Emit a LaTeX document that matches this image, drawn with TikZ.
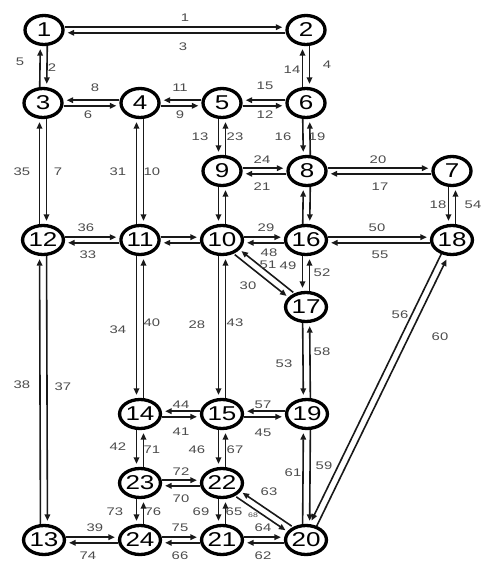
\documentclass[tikz,border=0pt]{standalone}
\usepackage{fontspec}
\usepackage{graphicx}
\setmainfont{Liberation Sans}
\usetikzlibrary{shapes.geometric,arrows.meta}
\newcommand{\ar}[4]{\draw[lnk, transform canvas={shift={(#3,#4)}}] (n#1) -- (n#2);}
\newcommand{\lab}[3]{\node[lb] (l#3) at (#1,#2) {\scalebox{1.35}[1]{#3}};}
\begin{document}
\begin{tikzpicture}[x=1pt,y=-1pt,
  nd/.style={ellipse, draw, line width=3.3pt, fill=white, minimum width=38pt, minimum height=29pt, inner sep=0pt, font=\fontsize{20}{20}\selectfont},
  lnk/.style={line width=1.6pt, draw=black!90, -{Triangle[length=6.5pt,width=5.5pt]}, shorten >=3pt},
  lb/.style={font=\fontsize{11}{11}\selectfont, text=black!70, inner sep=0pt}]
\useasboundingbox[fill=white] (0,0) rectangle (486,586);
% nodes
\foreach \n/\x/\y in {1/44/30, 2/306/30, 3/43/103, 4/140/103, 5/222/103, 6/306/103,
  9/222/171, 8/307/171, 7/452/171, 12/43/240, 11/140/240, 10/222/240, 16/306/240, 18/452/240,
  17/306/307, 14/140/414, 15/222/414, 19/307/414, 23/140/483, 22/222/483,
  13/44/540, 24/140/540, 21/222/540, 20/306/540}
  {\node[nd] (n\n) at (\x,\y) {\scalebox{1.3}[1]{\n}};}
% arcs
\ar{1}{2}{0}{-2.8} \ar{2}{1}{0}{2.8}
\ar{1}{3}{3.5}{0} \ar{3}{1}{-3.5}{0}
\ar{2}{6}{3.5}{0} \ar{6}{2}{-3.5}{0}
\ar{3}{4}{0}{2.8} \ar{4}{3}{0}{-2.8}
\ar{4}{5}{0}{2.8} \ar{5}{4}{0}{-2.8}
\ar{5}{6}{0}{2.8} \ar{6}{5}{0}{-2.8}
\ar{3}{12}{3.5}{0} \ar{12}{3}{-3.5}{0}
\ar{4}{11}{3.5}{0} \ar{11}{4}{-3.5}{0}
\ar{5}{9}{-3.5}{0} \ar{9}{5}{3.5}{0}
\ar{6}{8}{-3.5}{0} \ar{8}{6}{3.5}{0}
\ar{9}{8}{0}{-2.8} \ar{8}{9}{0}{2.8}
\ar{8}{7}{0}{-2.8} \ar{7}{8}{0}{2.8}
\ar{7}{18}{-3.5}{0} \ar{18}{7}{3.5}{0}
\ar{12}{11}{0}{-2.8} \ar{11}{12}{0}{2.8}
\ar{11}{10}{0}{-2.8} \ar{10}{11}{0}{2.8}
\ar{9}{10}{-3.5}{0} \ar{10}{9}{3.5}{0}
\ar{10}{16}{0}{-2.8} \ar{16}{10}{0}{2.8}
\ar{16}{8}{-3.5}{0} \ar{8}{16}{3.5}{0}
\ar{16}{18}{0}{-2.8} \ar{18}{16}{0}{2.8}
\ar{16}{17}{-3.5}{0} \ar{17}{16}{3.5}{0}
\ar{10}{17}{-2.2}{2.7} \ar{17}{10}{2.2}{-2.7}
\ar{10}{15}{-3.5}{0} \ar{15}{10}{3.5}{0}
\ar{11}{14}{-3.5}{0} \ar{14}{11}{3.5}{0}
\ar{13}{12}{-3.5}{0} \ar{12}{13}{3.5}{0}
\ar{17}{19}{-3.5}{0} \ar{19}{17}{3.5}{0}
\ar{15}{14}{0}{-2.8} \ar{14}{15}{0}{2.8}
\ar{19}{15}{0}{-2.8} \ar{15}{19}{0}{2.8}
\ar{14}{23}{-3.5}{0} \ar{23}{14}{3.5}{0}
\ar{15}{22}{-3.5}{0} \ar{22}{15}{3.5}{0}
\ar{20}{19}{-3.5}{0} \ar{19}{20}{3.5}{0}
\ar{23}{22}{0}{-2.8} \ar{22}{23}{0}{2.8}
\ar{23}{24}{-3.5}{0} \ar{24}{23}{3.5}{0}
\ar{22}{21}{-3.5}{0} \ar{21}{22}{3.5}{0}
\ar{22}{20}{-1.9}{2.9} \ar{20}{22}{1.9}{-2.9}
\ar{13}{24}{0}{-2.8} \ar{24}{13}{0}{2.8}
\ar{24}{21}{0}{-2.8} \ar{21}{24}{0}{2.8}
\ar{21}{20}{0}{-2.8} \ar{20}{21}{0}{2.8}
\ar{20}{18}{3.2}{1.5} \ar{18}{20}{-3.2}{-1.5}
% labels
\lab{185}{18}{1} \lab{183}{47}{3}
\lab{52}{68}{2} \lab{20}{62}{5}
\lab{327}{65}{4} \lab{292}{70}{14}
\lab{88}{115}{6} \lab{95}{88}{8}
\lab{180}{115}{9} \lab{180}{88}{11}
\lab{265}{115}{12} \lab{265}{86}{15}
\lab{58}{172}{7} \lab{22}{172}{35}
\lab{152}{172}{10} \lab{118}{172}{31}
\lab{200}{137}{13} \lab{235}{137}{23}
\lab{283}{137}{16} \lab{317}{137}{19}
\lab{262}{160}{24} \lab{262}{187}{21}
\lab{378}{160}{20} \lab{380}{187}{17}
\lab{438}{205}{18} \lab{473}{205}{54}
\lab{86}{228}{36} \lab{88}{255}{33}
\lab{266}{228}{29} \lab{269}{253}{48}
\lab{377}{228}{50} \lab{380}{255}{55}
\lab{288}{266}{49} \lab{322}{273}{52}
\lab{248}{286}{30} \lab{268}{265}{51}
\lab{197}{325}{28} \lab{235}{323}{43}
\lab{118}{330}{34} \lab{152}{323}{40}
\lab{22}{385}{38} \lab{63}{387}{37}
\lab{284}{364}{53} \lab{322}{352}{58}
\lab{181}{405}{44} \lab{181}{432}{41}
\lab{263}{405}{57} \lab{263}{433}{45}
\lab{118}{447}{42} \lab{152}{450}{71}
\lab{197}{450}{46} \lab{235}{450}{67}
\lab{293}{473}{61} \lab{324}{466}{59}
\lab{181}{472}{72} \lab{181}{499}{70}
\lab{115}{512}{73} \lab{153}{512}{76}
\lab{201}{512}{69} \lab{234}{512}{65}
\node[lb, font=\fontsize{6.5}{6.5}\selectfont] (l68) at (253,515) {\scalebox{1.35}[1]{68}};
\lab{269}{492}{63}
\lab{95}{528}{39} \lab{88}{556}{74}
\lab{180}{528}{75} \lab{180}{556}{66}
\lab{263}{528}{64} \lab{263}{556}{62}
\lab{440}{337}{60} \lab{400}{315}{56}
\end{tikzpicture}
\end{document}
